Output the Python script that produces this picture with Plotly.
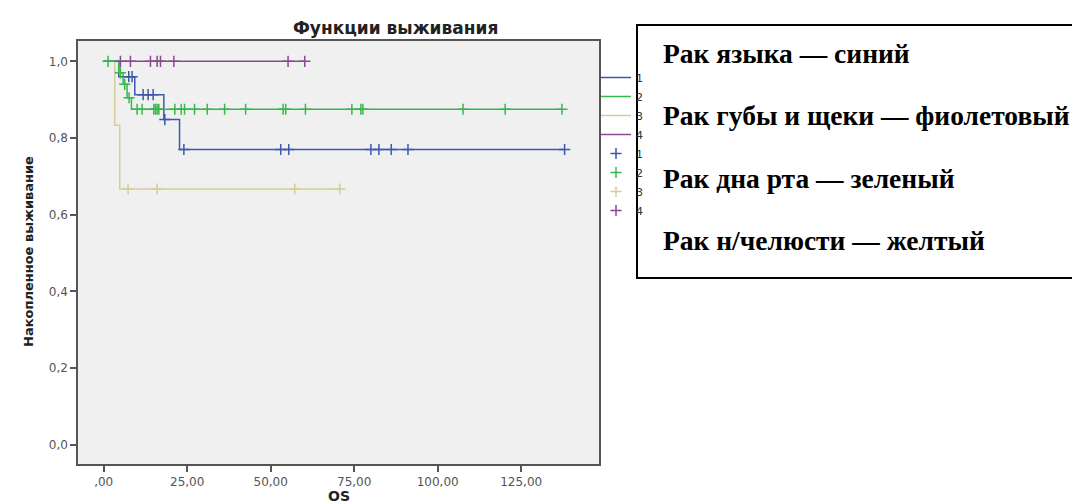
import numpy as np
import plotly.graph_objects as go

# ---------------- data ----------------
group_names = ["1", "2", "3", "4"]  # 1 tongue, 2 floor of mouth, 3 mandible, 4 lip & cheek

tongue_times = [0, 4.5, 9.3, 18.0, 22.7]
tongue_surv = [1.0, 0.96, 0.913, 0.848, 0.77]
tongue_end = 138.0
tongue_censor = [7.5, 8.5, 11.8, 13.3, 14.8, 18.3, 24.0, 53.0, 55.4, 80.0, 82.4, 86.1, 91.1, 138.0]

floor_times = [0, 4.5, 5.8, 7.0, 8.3]
floor_surv = [1.0, 0.97, 0.94, 0.905, 0.875]
floor_end = 137.2
floor_censor = [1.3, 5.0, 6.3, 7.6, 10.0, 11.5, 15.0, 15.5, 16.0, 16.5, 21.3, 23.2, 24.2,
                27.2, 31.0, 36.2, 42.5, 53.7, 54.5, 60.4, 74.3, 77.0, 77.6, 107.6, 120.2, 137.2]

jaw_times = [0, 3.3, 4.8]
jaw_surv = [1.0, 0.833, 0.667]
jaw_end = 70.7
jaw_censor = [7.3, 16.0, 57.2, 70.7]

lip_times = [0]
lip_surv = [1.0]
lip_end = 60.2
lip_censor = [5.0, 8.0, 14.0, 16.0, 17.0, 21.0, 55.2, 60.2]

x_tick_vals = [0, 25, 50, 75, 100, 125]
x_tick_text = [",00", "25,00", "50,00", "75,00", "100,00", "125,00"]
y_tick_vals = [0.0, 0.2, 0.4, 0.6, 0.8, 1.0]
y_tick_text = ["0,0", "0,2", "0,4", "0,6", "0,8", "1,0"]

box_lines = ["Рак языка — синий", "Рак губы и щеки — фиолетовый",
             "Рак дна рта — зеленый", "Рак н/челюсти — желтый"]

colors = {"1": "#3e58ac", "2": "#38b84c", "3": "#d3ce97", "4": "#8a4a92"}

# ---------------- layout geometry ----------------
W, H = 1080, 502
ML, MR, MT, MB = 70, 489, 33, 46
PW, PH = W - ML - MR, H - MT - MB


def px_x(px):
    return (px - ML) / PW


def px_y(py):
    return (H - MB - py) / PH


groups = [
    ("1", tongue_times, tongue_surv, tongue_end, tongue_censor),
    ("2", floor_times, floor_surv, floor_end, floor_censor),
    ("3", jaw_times, jaw_surv, jaw_end, jaw_censor),
    ("4", lip_times, lip_surv, lip_end, lip_censor),
]

fig = go.Figure()
draw_order = ["3", "4", "1", "2"]
gd = {g[0]: g for g in groups}
for rank_off, kind in [(0, "line"), (10, "cens")]:
    for name in draw_order:
        _, t, s, end, cens = gd[name]
        rank = rank_off + int(name)
        if kind == "line":
            xs = list(t) + [end]
            ys = list(s) + [s[-1]]
            fig.add_trace(go.Scatter(x=xs, y=ys, mode="lines", name=name,
                                     line=dict(color=colors[name], width=1.5, shape="hv"),
                                     legendrank=rank, hoverinfo="skip"))
        else:
            ta = np.array(t)
            sa = np.array(s)
            cy = [float(sa[np.searchsorted(ta, c, side="right") - 1]) for c in cens]
            fig.add_trace(go.Scatter(x=cens, y=cy, mode="markers", name=name,
                                     marker=dict(symbol="cross-thin-open", size=8,
                                                 color=colors[name],
                                                 line=dict(color=colors[name], width=1.5)),
                                     legendrank=rank, hoverinfo="skip"))

axis_common = dict(showgrid=False, zeroline=False, showline=True, linecolor="#555555",
                   linewidth=1.5, mirror=True, ticks="outside", ticklen=6,
                   tickcolor="#555555", tickwidth=1.5,
                   tickfont=dict(family="DejaVu Sans", size=12, color="#555555"))

fig.update_xaxes(range=[-7.7, 148.3], tickvals=x_tick_vals, ticktext=x_tick_text, **axis_common)
fig.update_yaxes(range=[-0.0504, 1.053], tickvals=y_tick_vals, ticktext=y_tick_text, **axis_common)

annotations = [
    dict(text="<b>Функции выживания</b>", xref="paper", yref="paper",
         x=px_x(283), y=px_y(20), xanchor="left", yanchor="middle", showarrow=False,
         font=dict(family="DejaVu Sans", size=17, color="#222222")),
    dict(text="<b>Накопленное выживание</b>", xref="paper", yref="paper",
         x=px_x(20), y=px_y(244), xanchor="center", yanchor="middle", textangle=-90,
         showarrow=False, font=dict(family="DejaVu Sans", size=13, color="#222222")),
    dict(text="<b>OS</b>", xref="paper", yref="paper",
         x=px_x(331), y=px_y(488), xanchor="center", yanchor="middle", showarrow=False,
         font=dict(family="DejaVu Sans", size=14, color="#222222")),
]
for i, (line, py) in enumerate(zip(box_lines, [45, 107, 170, 232])):
    annotations.append(dict(text="<b>" + line + "</b>", xref="paper", yref="paper",
                            x=px_x(653), y=px_y(py), xanchor="left", yanchor="middle",
                            showarrow=False,
                            font=dict(family="Liberation Serif", size=27.5, color="#000000")))

shapes = [dict(type="rect", xref="paper", yref="paper",
               x0=px_x(629), x1=px_x(1077), y0=px_y(270), y1=px_y(17),
               line=dict(color="#000000", width=2), fillcolor="#ffffff", layer="above")]

fig.update_layout(
    width=W, height=H, autosize=False,
    margin=dict(l=ML, r=MR, t=MT, b=MB, pad=0),
    paper_bgcolor="#ffffff", plot_bgcolor="#f0f0f0",
    showlegend=True,
    legend=dict(x=px_x(588), y=px_y(55), xanchor="left", yanchor="top",
                bgcolor="rgba(0,0,0,0)", itemwidth=30,
                font=dict(family="DejaVu Sans", size=11, color="#333333"),
                tracegroupgap=0),
    annotations=annotations,
    shapes=shapes,
)

fig.write_html("out.html")
